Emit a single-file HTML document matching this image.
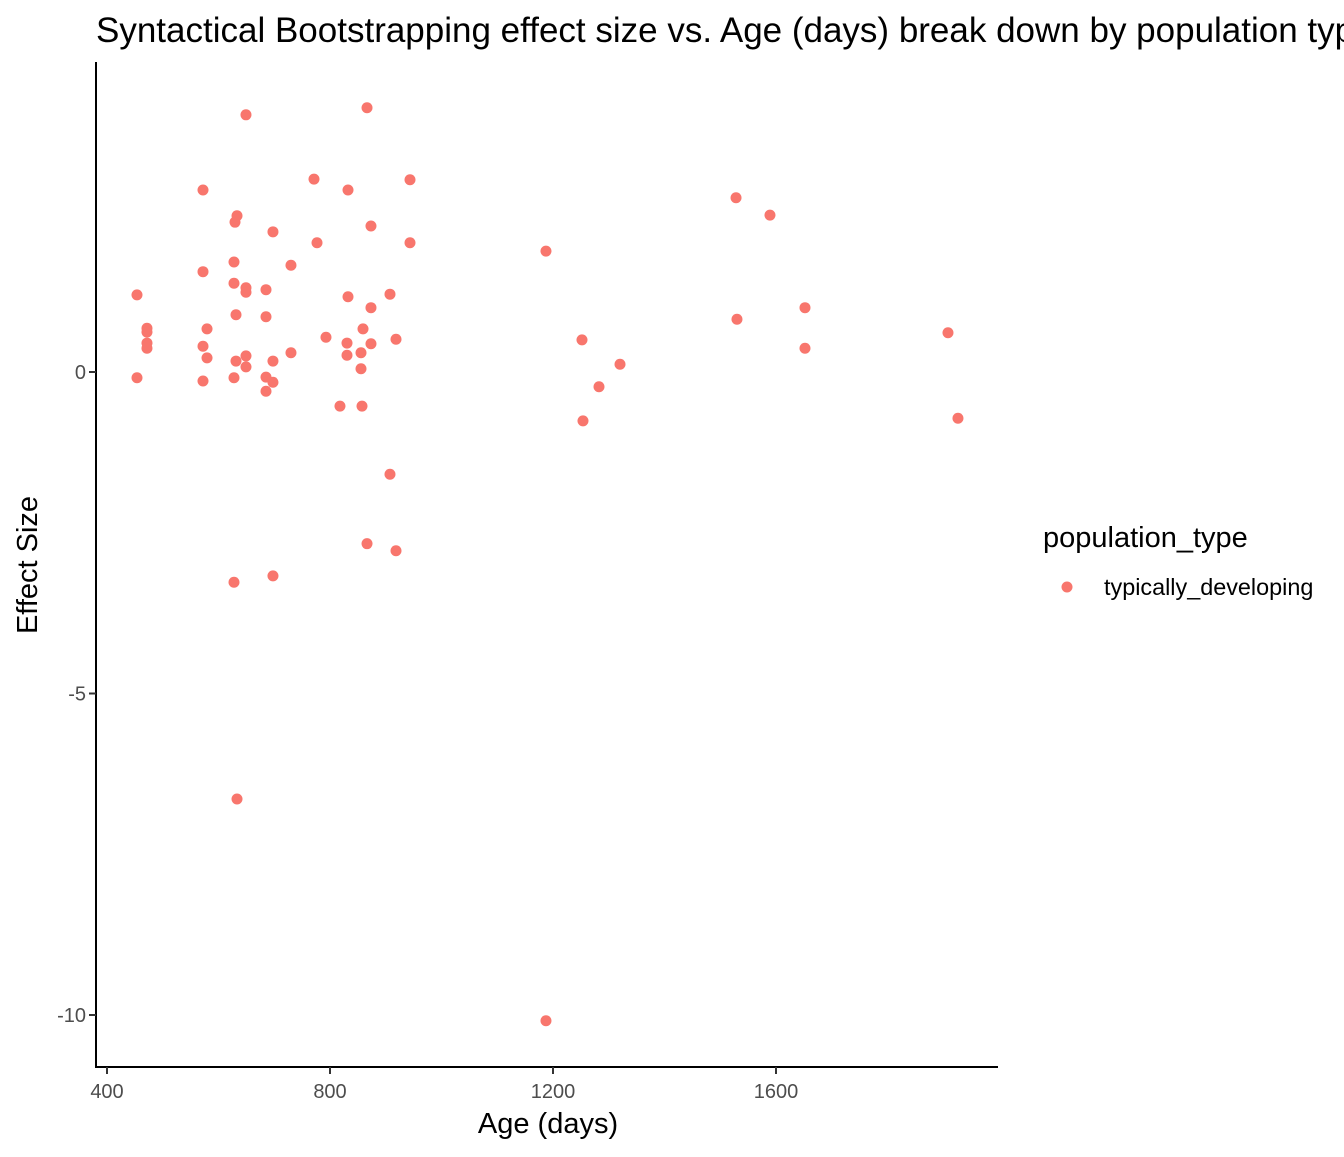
<!DOCTYPE html>
<html><head><meta charset="utf-8"><style>
body{margin:0;background:#fff;overflow:hidden;}
svg text{font-family:"Liberation Sans",Arial,sans-serif;}
</style></head><body>
<svg id="chart" width="1344" height="1152" xmlns="http://www.w3.org/2000/svg">
<text x="96" y="42" font-size="35" fill="#000">Syntactical Bootstrapping effect size vs. Age (days) break down by population type</text>
<g id="plot"></g>
<text x="548" y="1133" font-size="29" text-anchor="middle" fill="#000">Age (days)</text>
<text x="0" y="0" font-size="29" text-anchor="middle" fill="#000" transform="translate(37,565) rotate(-90)">Effect Size</text>
<text x="1043" y="547" font-size="29" fill="#000">population_type</text>
<circle cx="1067" cy="587" r="5.5" fill="#F8766D"/>
<text x="1104" y="595" font-size="23.4" fill="#000">typically_developing</text>
</svg>
<script>
const ages=[453.8,453.8,471.7,471.7,471.7,471.7,572.2,572.2,572.2,572.2,579.4,579.4,629.6,633.2,627.8,627.8,631.4,631.4,627.8,627.8,633.2,649.3,649.3,649.3,649.3,649.3,685.2,685.2,685.2,685.2,697.7,697.7,697.7,697.7,730.0,730.0,771.3,776.7,792.8,817.9,832.3,832.3,830.5,830.5,855.6,855.6,857.4,859.2,866.4,873.5,873.5,873.5,866.4,907.6,907.6,918.4,918.4,943.5,943.5,1187.4,1187.4,1252.0,1253.8,1282.5,1320.2,1528.3,1530.0,1589.2,1652.0,1652.0,1908.5,1926.4];
const effects=[1.20,-0.09,0.68,0.62,0.45,0.37,2.83,1.56,0.40,-0.14,0.67,0.22,2.33,2.43,1.71,1.38,0.89,0.17,-0.09,-3.27,-6.64,4.00,1.31,1.24,0.25,0.08,1.28,0.86,-0.08,-0.30,2.18,0.17,-0.16,-3.17,1.66,0.30,3.00,2.01,0.54,-0.53,2.83,1.17,0.45,0.26,0.30,0.05,-0.53,0.67,4.11,2.27,1.00,0.44,-2.67,1.21,-1.59,0.51,-2.78,2.99,2.01,1.88,-10.09,0.50,-0.76,-0.23,0.12,2.71,0.82,2.44,1.00,0.37,0.61,-0.72];
const xTicks=[400,800,1200,1600];
const yTicks=[0,-5,-10];
const NS='http://www.w3.org/2000/svg';
const X=v=>107+(v-400)*0.5575;
const Y=v=>372-v*64.3;
const g=document.getElementById('plot');
function mk(t,a){const e=document.createElementNS(NS,t);for(const k in a)e.setAttribute(k,a[k]);g.appendChild(e);return e;}
let ax=mk('line',{x1:96,y1:62,x2:96,y2:1068,stroke:'#000','stroke-width':2});


ax=mk('line',{x1:95,y1:1067,x2:998,y2:1067,stroke:'#000','stroke-width':2});


xTicks.forEach(t=>{
 const l=mk('line',{x1:X(t),y1:1067,x2:X(t),y2:1074,stroke:'#333','stroke-width':2});
 
 
 const tx=mk('text',{x:X(t),y:1098,'font-size':20,'text-anchor':'middle',fill:'#4d4d4d'});
 tx.textContent=t;
 
 
});
yTicks.forEach(t=>{
 const l=mk('line',{x1:89,y1:Y(t),x2:96,y2:Y(t),stroke:'#333','stroke-width':2});
 
 
 const tx=mk('text',{x:86,y:Y(t)+7,'font-size':20,'text-anchor':'end',fill:'#4d4d4d'});
 tx.textContent=t;
 
 
});
ages.forEach((a,i)=>{
 const c=mk('circle',{cx:X(a),cy:Y(effects[i]),r:5.5,fill:'#F8766D'});
 
 
});
</script>
</body></html>
